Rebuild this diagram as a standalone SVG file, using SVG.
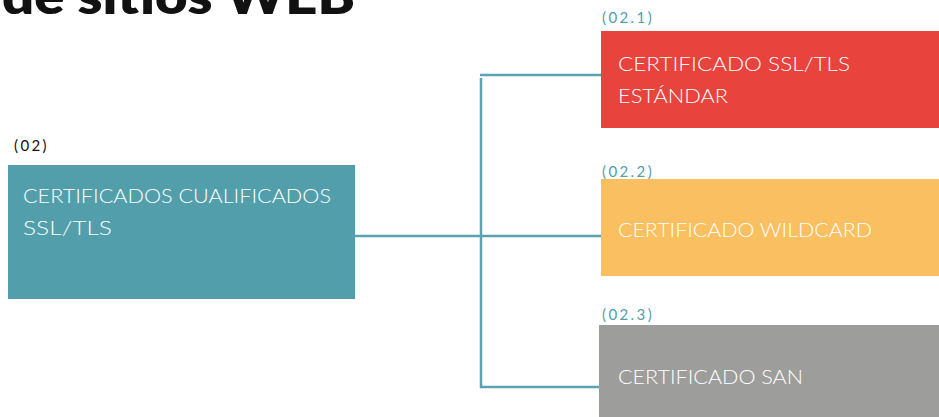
<svg xmlns="http://www.w3.org/2000/svg" width="939" height="417" viewBox="0 0 939 417">
<style>
.lbl{font-family:Lato,"Open Sans","Liberation Sans",sans-serif;font-size:15px;letter-spacing:2.4px}
.nt{font-family:Lato,"Open Sans","Liberation Sans",sans-serif;font-size:20px;font-weight:300;fill:#ffffff}
.con{stroke:#5BA3AF;stroke-width:2.5;fill:none}
</style>
<rect width="939" height="417" fill="#ffffff"/>
<text x="2" y="14" font-family="Lato,'Liberation Sans',sans-serif" font-weight="800" font-size="50" fill="#111111" textLength="353" lengthAdjust="spacingAndGlyphs">de sitios WEB</text>
<g id="connectors">
<path class="con" d="M355 236 H601"/>
<path class="con" d="M481 78 V388"/>
<path class="con" d="M480 75 H601"/>
<path class="con" d="M480 387 H601"/>
</g>
<g id="n02">
<text class="lbl" x="14" y="151" fill="#111111">(02)</text>
<rect x="8" y="165" width="347" height="134" fill="#529FAB"/>
<text class="nt" x="23" y="203" textLength="308" lengthAdjust="spacingAndGlyphs">CERTIFICADOS CUALIFICADOS</text>
<text class="nt" x="23" y="235" textLength="89" lengthAdjust="spacingAndGlyphs">SSL/TLS</text>
</g>
<g id="n021">
<text class="lbl" x="602" y="23" fill="#529FAB">(02.1)</text>
<rect x="601" y="31" width="338" height="97" fill="#E8433D"/>
<text class="nt" x="618" y="71" textLength="232" lengthAdjust="spacingAndGlyphs">CERTIFICADO SSL/TLS</text>
<text class="nt" x="618" y="103" textLength="110" lengthAdjust="spacingAndGlyphs">ESTÁNDAR</text>
</g>
<g id="n022">
<text class="lbl" x="602" y="177" fill="#529FAB">(02.2)</text>
<rect x="601" y="179" width="338" height="97" fill="#F9BF60"/>
<text class="nt" x="618" y="237" textLength="254" lengthAdjust="spacingAndGlyphs">CERTIFICADO WILDCARD</text>
</g>
<g id="n023">
<text class="lbl" x="602" y="320" fill="#529FAB">(02.3)</text>
<rect x="599" y="325" width="340" height="92" fill="#9D9D9C"/>
<text class="nt" x="618" y="384" textLength="185" lengthAdjust="spacingAndGlyphs">CERTIFICADO SAN</text>
</g>
</svg>
